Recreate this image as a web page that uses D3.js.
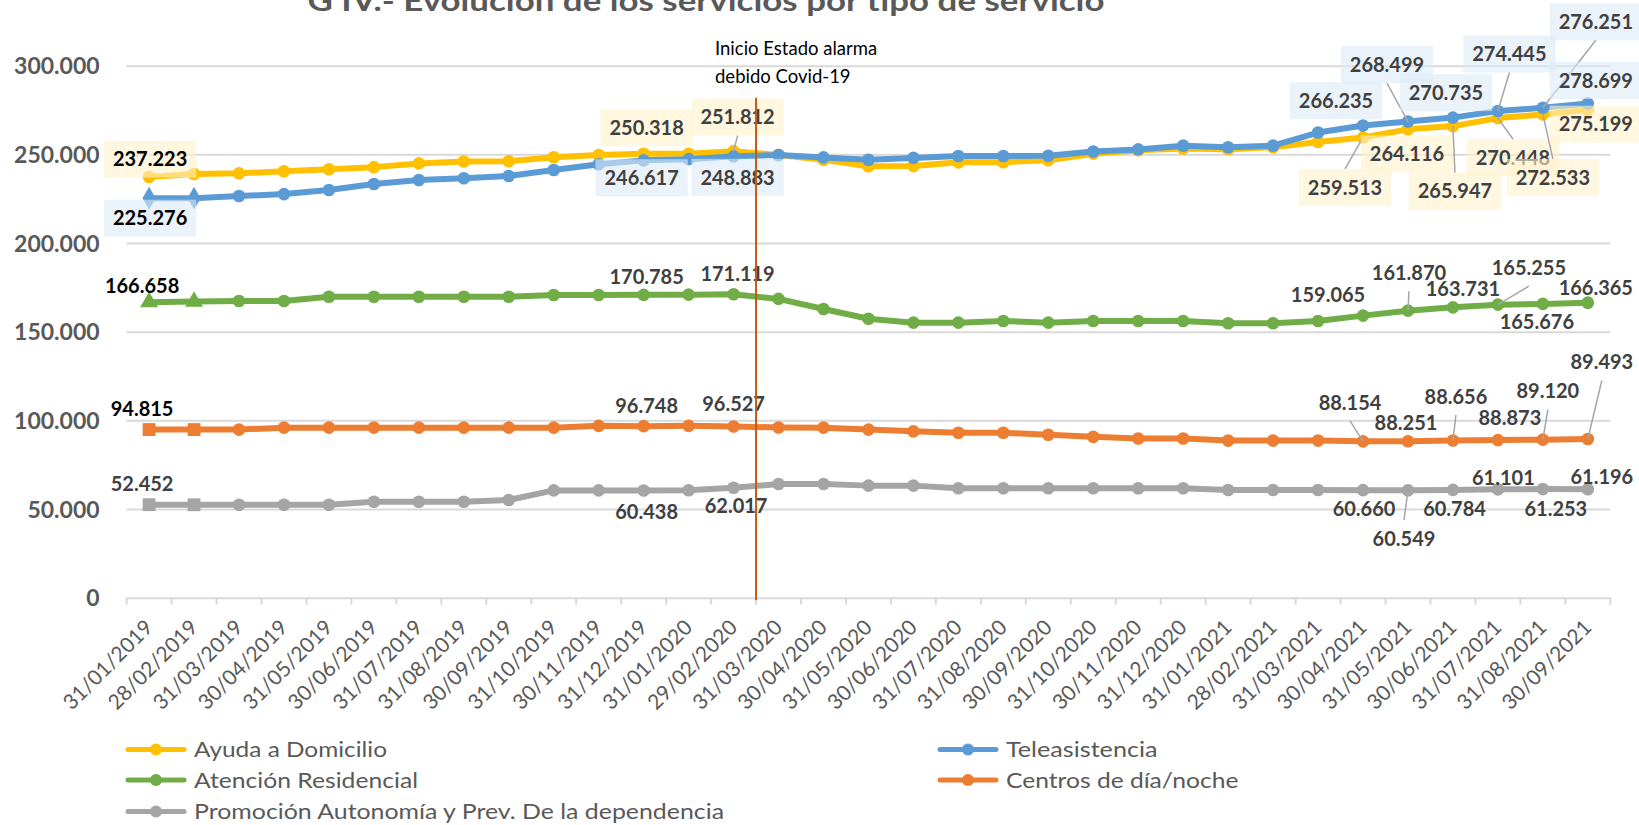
<!DOCTYPE html>
<html><head><meta charset="utf-8">
<script src="https://cdn.jsdelivr.net/npm/d3@7"></script>
<style>body{margin:0;background:#fff;} svg{display:block;font-family:Lato,'Open Sans',sans-serif;}</style>
</head><body><svg id="chart" width="1639" height="825"></svg>
<script>
const title = "G IV.- Evolución de los servicios por tipo de servicio";
const annotationLines = ["Inicio Estado alarma", "debido Covid-19"];
const covidCategory = "31/03/2020";
const categories = ["31/01/2019","28/02/2019","31/03/2019","30/04/2019","31/05/2019","30/06/2019","31/07/2019","31/08/2019","30/09/2019","31/10/2019","30/11/2019","31/12/2019","31/01/2020","29/02/2020","31/03/2020","30/04/2020","31/05/2020","30/06/2020","31/07/2020","31/08/2020","30/09/2020","31/10/2020","30/11/2020","31/12/2020","31/01/2021","28/02/2021","31/03/2021","30/04/2021","31/05/2021","30/06/2021","31/07/2021","31/08/2021","30/09/2021"];
const seriesNames = ["Ayuda a Domicilio","Teleasistencia","Atención Residencial","Centros de día/noche","Promoción Autonomía y Prev. De la dependencia"];
const ayuda = [237223,238900,239300,240500,241600,242800,244900,246000,246100,248400,249600,250318,250300,251812,249700,246900,243300,243400,245500,245600,246700,250400,252300,253300,252900,254000,257000,259513,264116,265947,270448,272533,275199];
const teleasistencia = [225276,225300,226500,227600,229900,233300,235500,236500,237800,241200,244400,246617,247300,248883,249600,248300,247000,248000,249100,249100,249200,251600,252800,254900,254000,254900,262300,266235,268499,270735,274445,276251,278699];
const residencial = [166658,167000,167300,167300,169700,169700,169700,169700,169700,170700,170700,170785,170900,171119,168500,162800,157300,155100,155100,156000,155100,156000,156000,156000,154800,154800,156000,159065,161870,163731,165255,165676,166365];
const centros = [94815,94800,94800,95900,95900,95900,95900,95900,95900,95900,96900,96748,96900,96527,96000,95900,94800,93800,93000,93000,91900,90700,89800,89800,88600,88600,88600,88154,88251,88656,88873,89120,89493];
const promocion = [52452,52400,52400,52400,52400,54100,54100,54100,55100,60500,60500,60438,60600,62017,64100,64100,63200,63200,61700,61700,61700,61700,61700,61700,60700,60700,60700,60660,60549,60784,61101,61253,61196];
const yTicks = [0,50000,100000,150000,200000,250000,300000];

const seriesValues = [ayuda, teleasistencia, residencial, centros, promocion];
const styles = [
  {color:"#FFC000", first:"circle",   box:"#FFF2CC"},
  {color:"#5B9BD5", first:"diamond",  box:"#DDEBF7"},
  {color:"#70AD47", first:"triangle", box:null},
  {color:"#ED7D31", first:"square",   box:null},
  {color:"#A5A5A5", first:"square",   box:null}
];
// data-label placement (offsets from the point, in px) — layout only
const labelSpec = [
  [{i:0,dx:1,dy:-18,c:"#000"},{i:11,dx:3,dy:-26},{i:13,dx:4,dy:-34,L:1},{i:27,dx:-18,dy:50,L:1},{i:28,dx:-1,dy:24.5},{i:29,dx:2,dy:65,L:1},{i:30,dx:15,dy:39.4,L:1},{i:31,dx:10,dy:63,L:1},{i:32,dx:8,dy:14.5}],
  [{i:0,dx:1,dy:20,c:"#000"},{i:11,dx:-2,dy:17.4},{i:13,dx:4,dy:21},{i:27,dx:-27,dy:-25},{i:28,dx:-21,dy:-57,L:1},{i:29,dx:-7,dy:-25},{i:30,dx:11.5,dy:-57,L:1},{i:31,dx:53,dy:-86,L:1},{i:32,dx:8,dy:-23}],
  [{i:0,dx:-7,dy:-16,c:"#000"},{i:11,dx:3,dy:-18},{i:13,dx:4,dy:-20},{i:27,dx:-35,dy:-21},{i:28,dx:1,dy:-38,L:1},{i:29,dx:10,dy:-19},{i:30,dx:31,dy:-37,L:1},{i:31,dx:-6,dy:18},{i:32,dx:8,dy:-15}],
  [{i:0,dx:-7,dy:-21,c:"#000"},{i:11,dx:3,dy:-20},{i:13,dx:0,dy:-23},{i:27,dx:-13,dy:-39,L:1},{i:28,dx:-2,dy:-18},{i:29,dx:3,dy:-44,L:1},{i:30,dx:12,dy:-22},{i:31,dx:5,dy:-48.5,L:1},{i:32,dx:14,dy:-77,L:1}],
  [{i:0,dx:-7,dy:-21},{i:11,dx:3,dy:21},{i:13,dx:2.5,dy:18},{i:27,dx:1,dy:19},{i:28,dx:-4,dy:48,L:1},{i:29,dx:1.6,dy:19},{i:30,dx:5.5,dy:-12},{i:31,dx:13,dy:20},{i:32,dx:14,dy:-12}]
];

const fmt = d3.formatLocale({decimal:",", thousands:".", grouping:[3], currency:["",""]}).format(",");
const svg = d3.select("#chart");
const plot = {left:126.6, right:1610.3, top:65.7, bottom:597.7};
const x = d3.scaleBand().domain(categories).range([plot.left, plot.right]);
const y = d3.scaleLinear().domain([0,300000]).range([plot.bottom, plot.top]);
const cx = c => x(c) + x.bandwidth()/2;

// title
svg.append("text").attr("x",706).attr("y",11).attr("text-anchor","middle")
  .attr("font-size",29).attr("font-weight",700).attr("fill","#595959")
  .attr("textLength",797).attr("lengthAdjust","spacingAndGlyphs").text(title);

// y axis + gridlines
const gy = svg.append("g").attr("transform",`translate(${plot.left},0)`)
  .call(d3.axisLeft(y).tickValues(yTicks).tickFormat(fmt).tickSize(-(plot.right-plot.left)).tickPadding(27));
gy.select(".domain").remove();
gy.selectAll(".tick line").attr("stroke","#D9D9D9").attr("stroke-width",2);
gy.selectAll(".tick text").attr("font-family","Lato").attr("font-size",23).attr("font-weight",700)
  .attr("fill","#595959").attr("dy","0.36em");

// x axis
const gx = svg.append("g").attr("transform",`translate(0,${plot.bottom})`)
  .call(d3.axisBottom(x).tickSize(0));
gx.select(".domain").remove();
gx.selectAll(".tick text").attr("font-family","Lato").attr("font-size",21).attr("fill","#595959")
  .attr("y",0).attr("dy",0).attr("text-anchor","end")
  .attr("transform","translate(5,31) rotate(-45)");
const bounds = categories.map(c => x(c)).concat([plot.right]);
svg.append("g").selectAll("line").data(bounds).join("line")
  .attr("x1",d=>d).attr("x2",d=>d).attr("y1",plot.bottom).attr("y2",plot.bottom+7)
  .attr("stroke","#D9D9D9").attr("stroke-width",2);

// series
const line = d3.line().x((d,i)=>cx(categories[i])).y(d=>y(d));
const symType = {circle:d3.symbolCircle, diamond:d3.symbolDiamond, triangle:d3.symbolTriangle, square:d3.symbolSquare};
const symSize = {circle:125, diamond:150, triangle:140, square:165};
seriesValues.forEach((vals,si)=>{
  const st = styles[si];
  const g = svg.append("g");
  g.append("path").datum(vals).attr("d",line).attr("fill","none").attr("stroke",st.color)
    .attr("stroke-width",6).attr("stroke-linejoin","round");
  g.selectAll("path.m").data(vals).join("path").attr("class","m")
    .attr("transform",(d,i)=>`translate(${cx(categories[i])},${y(d)})`)
    .attr("d",(d,i)=>{const t = i<2 ? st.first : "circle"; return d3.symbol().type(symType[t]).size(symSize[t])();})
    .attr("fill",st.color);
});

// data labels
seriesValues.forEach((vals,si)=>{
  const st = styles[si];
  const g = svg.append("g");
  labelSpec[si].forEach(spec=>{
    const px = cx(categories[spec.i]), py = y(vals[spec.i]);
    const tx = px + spec.dx, ty = py + spec.dy;
    const t = g.append("text").attr("x",tx).attr("y",ty+7.2).attr("text-anchor","middle")
      .attr("font-size",20).attr("font-weight",700).attr("fill",spec.c || "#404040").text(fmt(vals[spec.i]));
    const tw = t.node().getComputedTextLength();
    const hw = tw/2 + 9, hh = 18.5;
    if (st.box) {
      g.insert("rect", () => t.node()).attr("x",tx-hw).attr("y",ty-hh).attr("width",2*hw).attr("height",2*hh)
        .attr("fill",st.box).attr("fill-opacity",0.6);
    }
    if (spec.L) {
      let sx, sy;
      if (py < ty-hh) { sx = tx; sy = ty-hh; }
      else if (py > ty+hh) { sx = tx; sy = ty+hh; }
      else if (px > tx) { sx = tx+hw; sy = ty; }
      else { sx = tx-hw; sy = ty; }
      g.append("line").attr("x1",sx).attr("y1",sy).attr("x2",px).attr("y2",py)
        .attr("stroke","#A6A6A6").attr("stroke-width",1.5);
    }
  });
});

// covid line + annotation
const xc = x(covidCategory);
svg.append("line").attr("x1",xc).attr("x2",xc).attr("y1",97.7).attr("y2",600)
  .attr("stroke","#C55A11").attr("stroke-width",2);
svg.append("g").selectAll("text").data(annotationLines).join("text")
  .attr("x",715).attr("y",(d,i)=>55+i*28).attr("font-size",18.5).attr("fill","#000").text(d=>d);

// legend
const legendPos = [
  {x:128, y:749.5, w:193}, {x:940, y:749.5, w:151.5},
  {x:128, y:780, w:224}, {x:940, y:780, w:232.4},
  {x:128, y:811.5, w:530}
];
const lg = svg.append("g");
seriesNames.forEach((name,si)=>{
  const p = legendPos[si];
  lg.append("line").attr("x1",p.x).attr("x2",p.x+56).attr("y1",p.y).attr("y2",p.y)
    .attr("stroke",styles[si].color).attr("stroke-width",5).attr("stroke-linecap","round");
  lg.append("circle").attr("cx",p.x+28).attr("cy",p.y).attr("r",6).attr("fill",styles[si].color);
  lg.append("text").attr("x",p.x+66).attr("y",p.y+7.5).attr("font-size",21).attr("fill","#595959")
    .attr("textLength",p.w).attr("lengthAdjust","spacingAndGlyphs").text(name);
});
</script></body></html>
